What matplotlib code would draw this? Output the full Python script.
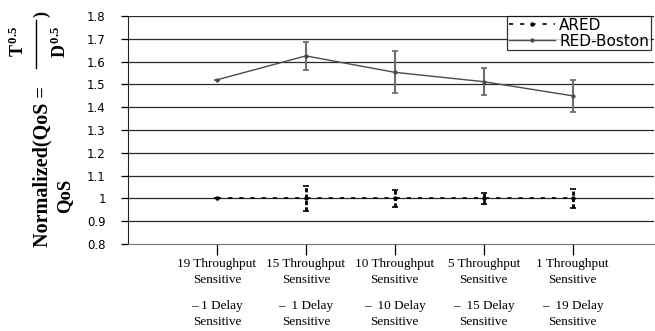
import matplotlib
matplotlib.use("Agg")
import matplotlib.pyplot as plt
from matplotlib.lines import Line2D
import numpy as np

categories_top = ["19 Throughput\nSensitive", "15 Throughput\nSensitive", "10 Throughput\nSensitive",
                  "5 Throughput\nSensitive", "1 Throughput\nSensitive"]
categories_bottom = ["\u2013 1 Delay\nSensitive", "\u2013  1 Delay\nSensitive", "\u2013  10 Delay\nSensitive",
                     "\u2013  15 Delay\nSensitive", "\u2013  19 Delay\nSensitive"]
ared = [1.0, 1.0, 1.0, 1.0, 1.0]
ared_err = [0.0, 0.055, 0.036, 0.023, 0.043]
red_boston = [1.52, 1.625, 1.553, 1.512, 1.45]
red_boston_err = [0.0, 0.06, 0.092, 0.06, 0.07]
yticks = [0.8, 0.9, 1.0, 1.1, 1.2, 1.3, 1.4, 1.5, 1.6, 1.7, 1.8]
ytick_labels = ["0.8", "0.9", "1", "1.1", "1.2", "1.3", "1.4", "1.5", "1.6", "1.7", "1.8"]

plt.rcParams['mathtext.fontset'] = 'custom'
plt.rcParams['mathtext.rm'] = 'Liberation Serif:bold'
plt.rcParams['mathtext.it'] = 'Liberation Serif:bold'
plt.rcParams['mathtext.bf'] = 'Liberation Serif:bold'

W, H = 655, 331
fig = plt.figure(figsize=(W/100, H/100), dpi=100)
ax = fig.add_axes([128/W, 1-244/H, (W-128)/W - 0.001, (244-16)/H])

x = np.arange(len(categories_top))

for yv in yticks[1:]:
    ax.axhline(yv, color='#2a2a2a', lw=0.9, zorder=1)

ared_dash = (0, (2.5, 4.2))
eb_a = ax.errorbar(x, ared, yerr=ared_err, color='black', lw=1.2, ls=ared_dash,
                   marker='o', ms=2.2, capsize=2, elinewidth=2.0, capthick=1.2, zorder=3)
for lc in eb_a[2]:
    lc.set_linestyle((0, (1.5, 0.8)))
eb = ax.errorbar(x, red_boston, yerr=red_boston_err, color='#4a4a4a', lw=1.0, ls='-',
                 marker='o', ms=2, capsize=2.5, elinewidth=1.5, capthick=1.3, ecolor='#6e6e6e', zorder=3)

ax.set_xlim(-1, 4.92)
ax.set_ylim(0.8, 1.8)
ax.set_yticks(yticks)
ax.set_yticklabels(ytick_labels, fontfamily='DejaVu Sans', fontsize=8.5)
ax.set_xticks(x)
ax.set_xticklabels(categories_top, fontfamily='Liberation Serif', fontsize=9.5, linespacing=1.45)
for xi, lab in zip(x, categories_bottom):
    ax.text(xi, -0.307, lab, transform=ax.get_xaxis_transform(), ha='center', va='center',
            fontfamily='Liberation Serif', fontsize=9.5, linespacing=1.4)

ax.tick_params(axis='y', direction='out', length=5, width=0.9, pad=11, colors='black')
ax.tick_params(axis='x', direction='out', length=8, width=0.9, pad=2, colors='black')
for s in ['top', 'right']:
    ax.spines[s].set_visible(False)
ax.spines['left'].set_color('#222222')
ax.spines['bottom'].set_color('#777777')

handles = [Line2D([0], [0], color='black', lw=1.2, ls=ared_dash, marker='o', ms=2.2),
           Line2D([0], [0], color='#4a4a4a', lw=1.0, marker='o', ms=2)]
leg = ax.legend(handles, ['ARED', 'RED-Boston'], loc='upper right',
                bbox_to_anchor=(651/W, 1-16/H), bbox_transform=fig.transFigure,
                prop={'family': 'DejaVu Sans', 'size': 11}, frameon=True, fancybox=False,
                borderpad=0.12, handlelength=3.0, handletextpad=0.3, labelspacing=0.05,
                borderaxespad=0)
leg.get_frame().set_edgecolor('black')
leg.get_frame().set_linewidth(0.9)

# y-axis label (rotated equation-like label)
lab_kw = dict(rotation=90, rotation_mode='anchor', ha='left', va='baseline',
              fontfamily='Liberation Serif', fontweight='bold')
fig.text(47/W, 1-247/H, "Normalized(QoS =", fontsize=14.5, **lab_kw)
fig.text(23.5/W, 1-57/H, r"$\mathrm{T}^{\,0.5}$", fontsize=13, **lab_kw)
fig.text(65.5/W, 1-58/H, r"$\mathrm{D}^{\,0.5}$", fontsize=13, **lab_kw)
fig.text(46/W, 1-17/H, ")", fontsize=13, **lab_kw)
fig.add_artist(Line2D([35.5/W, 35.5/W], [1-20/H, 1-68/H], color='black', lw=1.0,
                      transform=fig.transFigure))
fig.text(69/W, 1-213/H, "QoS", fontsize=13.5, **lab_kw)

fig.savefig("out.png", dpi=100)
